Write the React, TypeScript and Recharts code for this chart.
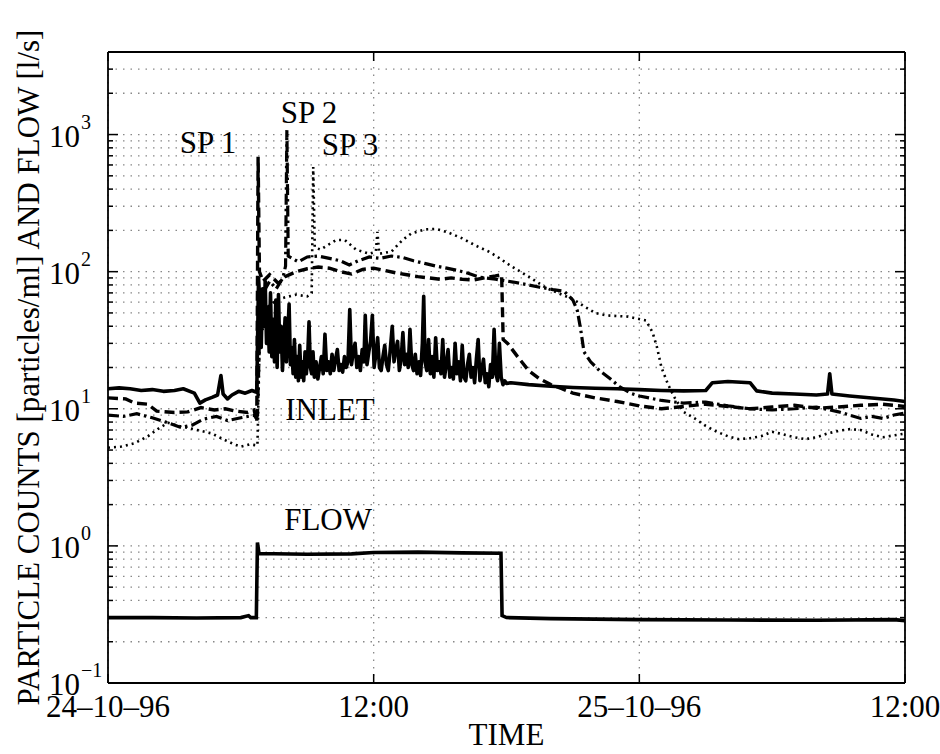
import React from 'react';

import { CartesianGrid, Label, Line, LineChart, ReferenceDot, XAxis, YAxis } from 'recharts';

const SERIF = '"Liberation Serif", "Times New Roman", serif';

// hours since 24-10-96 00:00
const xTicks = [0, 12, 24, 36];
const xTickLabels = ['24–10–96', '12:00', '25–10–96', '12:00'];

const yMajor = [0.1, 1, 10, 100, 1000];
const yExp = ['−1', '0', '1', '2', '3'];
const yMinor = [
  0.2, 0.3, 0.4, 0.5, 0.6, 0.7, 0.8, 0.9,
  2, 3, 4, 5, 6, 7, 8, 9,
  20, 30, 40, 50, 60, 70, 80, 90,
  200, 300, 400, 500, 600, 700, 800, 900,
  2000, 3000,
];
const yTicks = [...yMajor, ...yMinor].sort((a, b) => a - b);

// [hour, value]
const inlet: [number, number][] = [
  [0, 14], [0.5, 14.2], [1, 14], [1.5, 13.6], [2, 13.8], [2.5, 13.4], [3, 13.6], [3.4, 14],
  [3.9, 13], [4.15, 11], [4.4, 11.6], [4.7, 12.1], [4.95, 12.6], [5.1, 17.5], [5.2, 12.8],
  [5.4, 11.8], [5.6, 12.6], [5.9, 13.4], [6.2, 13], [6.5, 13.6], [6.72, 13.2],
  [6.8, 90], [6.86, 60], [6.92, 28], [6.98, 75], [7.04, 40], [7.1, 85], [7.16, 30], [7.22, 55],
  [7.28, 26], [7.34, 70], [7.4, 24], [7.46, 45], [7.52, 22], [7.58, 62], [7.64, 20], [7.7, 68],
  [7.76, 26], [7.82, 40], [7.88, 19], [7.94, 30], [8.0, 46], [8.06, 22], [8.12, 35], [8.18, 58],
  [8.24, 21], [8.3, 28], [8.36, 18], [8.42, 32], [8.48, 17], [8.54, 24], [8.6, 16], [8.66, 29],
  [8.72, 17], [8.78, 22], [8.84, 16], [8.9, 26], [8.96, 18], [9.02, 24], [9.08, 43], [9.14, 20],
  [9.2, 18], [9.26, 26], [9.32, 17], [9.4, 22], [9.48, 16.5], [9.56, 20], [9.64, 24], [9.72, 18],
  [9.8, 35], [9.88, 19], [9.96, 22], [10.04, 18], [10.12, 25], [10.2, 19], [10.28, 23],
  [10.36, 27], [10.44, 19], [10.52, 21], [10.6, 18.5], [10.68, 24], [10.76, 20], [10.84, 22],
  [10.92, 53], [11.0, 21], [11.08, 26], [11.16, 30], [11.24, 20], [11.32, 24], [11.4, 19],
  [11.48, 27], [11.56, 22], [11.62, 48], [11.7, 21], [11.78, 26], [11.86, 31], [11.94, 48],
  [12.02, 20], [12.1, 25], [12.18, 33], [12.26, 20], [12.34, 19], [12.42, 24], [12.5, 29],
  [12.58, 21], [12.66, 19], [12.74, 26], [12.84, 40], [12.92, 22], [13.0, 27], [13.08, 31],
  [13.16, 19], [13.24, 23], [13.32, 36], [13.4, 21], [13.48, 25], [13.56, 20], [13.64, 38],
  [13.72, 21], [13.8, 19], [13.88, 25], [13.96, 18], [14.04, 22], [14.12, 17.5], [14.2, 30],
  [14.26, 66], [14.32, 22], [14.4, 19], [14.48, 32], [14.56, 18], [14.64, 24], [14.72, 17],
  [14.8, 33], [14.88, 19], [14.96, 22], [15.04, 18], [15.12, 32], [15.2, 17], [15.28, 21],
  [15.36, 27], [15.44, 17], [15.52, 20], [15.6, 16.5], [15.68, 30], [15.76, 18], [15.84, 22],
  [15.92, 16], [16.0, 29], [16.08, 17], [16.16, 16], [16.24, 21], [16.32, 25], [16.4, 17],
  [16.48, 20], [16.56, 15.5], [16.64, 23], [16.72, 32], [16.8, 16], [16.88, 19], [16.96, 23],
  [17.04, 15.5], [17.12, 18], [17.2, 14.5], [17.28, 21], [17.36, 17], [17.44, 38], [17.52, 18],
  [17.6, 16], [17.68, 30], [17.76, 17], [17.84, 15], [17.92, 16], [18.0, 15.3], [18.2, 15.5],
  [19, 15], [20, 14.6], [21, 14.3], [22, 14.1], [23, 14], [24, 13.8], [25, 13.6], [26, 13.5],
  [27, 13.6], [27.3, 15.5], [28, 15.8], [29, 15.5], [29.3, 13.5], [30, 13], [31, 12.8],
  [32, 12.6], [32.5, 12.8], [32.6, 18], [32.7, 12.8], [33.5, 12.4], [34, 12.2], [35, 11.8],
  [35.5, 11.6], [36, 11.3],
];

const sp1: [number, number][] = [
  [0, 12], [0.8, 11.8], [1.2, 11], [1.8, 10.8], [2.2, 9.6], [3, 9.4], [3.6, 9.5], [4.2, 10.2],
  [4.8, 9.8], [5.3, 10], [5.8, 9.6], [6.3, 9.4], [6.6, 9.8], [6.72, 8], [6.78, 690], [6.84, 100],
  [7.0, 85], [7.3, 95], [7.7, 82], [8.0, 92], [8.5, 100], [9.0, 105], [9.5, 108], [10.0, 106],
  [10.5, 100], [11.0, 96], [11.5, 104], [12.0, 106], [12.5, 102], [13.0, 98], [13.5, 95],
  [14.0, 92], [14.5, 90], [15.0, 88], [15.5, 90], [16.0, 88], [16.5, 87], [17.0, 90],
  [17.5, 93], [17.78, 95], [17.85, 32], [18.05, 30], [18.5, 24], [19.0, 19], [19.5, 16.5],
  [20, 15], [20.5, 14], [21, 13], [22, 12], [23, 11.3], [24, 10.5], [25, 10], [26, 10.4],
  [27, 10.8], [28, 10.4], [29, 10], [30, 10.3], [31, 10.6], [32, 10.1], [33, 10.3],
  [34, 10.6], [35, 10.8], [36, 10.4],
];

const sp2: [number, number][] = [
  [0, 9], [0.7, 8.8], [1.3, 9.2], [2, 8.6], [2.6, 8], [3.3, 7.3], [3.8, 7.6], [4.3, 8.4],
  [4.9, 8.8], [5.4, 8.2], [6, 8.6], [6.5, 8.9], [6.75, 9], [6.85, 35], [7.0, 70], [7.3, 85],
  [7.6, 75], [7.9, 90], [8.02, 110], [8.08, 1080], [8.14, 130], [8.6, 118], [9.0, 128],
  [9.5, 130], [10.0, 125], [10.5, 120], [10.9, 112], [11.3, 120], [11.8, 128], [12.3, 125],
  [12.8, 130], [13.3, 127], [13.8, 120], [14.3, 115], [14.8, 110], [15.3, 106], [15.8, 102],
  [16.3, 97], [16.8, 91], [17.5, 88], [18.3, 84], [19.0, 80], [19.5, 77], [20.1, 74],
  [20.6, 72], [21.0, 62], [21.2, 52], [21.35, 38], [21.5, 26], [21.8, 22], [22.2, 19],
  [22.7, 16.5], [23.1, 14.5], [23.6, 13], [24, 12.4], [25, 11.5], [26, 11], [27, 11.2],
  [28, 10.5], [29, 10], [30, 9.8], [31, 10], [32, 10.3], [33, 9.5], [33.5, 9], [34, 8.5],
  [34.5, 8.8], [35, 8.5], [35.5, 9], [36, 9.3],
];

const sp3: [number, number][] = [
  [0, 5.2], [0.6, 5.3], [1.2, 5.6], [1.8, 6.3], [2.3, 7.2], [2.7, 7.9], [3.2, 7.5], [3.7, 7.2],
  [4.2, 6.9], [4.7, 6.6], [5.2, 6], [5.7, 5.5], [6.0, 5.3], [6.4, 5.5], [6.75, 5.4],
  [6.85, 30], [7.2, 55], [7.6, 62], [8.0, 65], [8.5, 68], [9.0, 66], [9.2, 70], [9.27, 580],
  [9.34, 150], [9.6, 145], [10.3, 170], [10.7, 170], [11.2, 145], [11.8, 135], [12.1, 140],
  [12.17, 195], [12.25, 135], [12.8, 140], [13.3, 170], [13.7, 190], [14.3, 203], [14.8, 205],
  [15.3, 195], [16.0, 175], [16.6, 155], [17.2, 140], [17.6, 128], [18.2, 110], [19.0, 92],
  [19.8, 76], [20.5, 68], [21.0, 63], [21.5, 56], [22.0, 50], [22.5, 48], [23.5, 47],
  [24.3, 44], [24.6, 36], [24.8, 28], [25.0, 20], [25.3, 15], [25.6, 12], [26.0, 9.5],
  [26.5, 8.5], [27, 7.5], [27.5, 6.8], [28, 6.3], [28.5, 6], [29, 6.1], [29.5, 6.3], [30, 6.8],
  [30.5, 6.5], [31, 6.2], [31.5, 6], [32, 6.2], [32.5, 6.6], [33, 6.9], [33.5, 7.1], [34, 7],
  [34.5, 6.5], [35, 6.2], [35.5, 6.4], [36, 6.6],
];

const flow: [number, number][] = [
  [0, 0.3], [2, 0.3], [4, 0.298], [6, 0.3], [6.35, 0.31], [6.45, 0.3], [6.7, 0.3], [6.75, 1.06],
  [6.82, 0.88], [9, 0.87], [11, 0.875], [12, 0.895], [14, 0.9], [16, 0.89], [17.75, 0.885],
  [17.8, 0.31], [18, 0.3], [20, 0.295], [24, 0.29], [28, 0.288], [32, 0.287], [35.5, 0.29],
  [36, 0.285],
];

const toRows = (pts: [number, number][]) => pts.map(([t, v]) => ({ t, v }));

const LeftTick = (props: any) => {
  const { x, y, payload } = props;
  const i = yMajor.indexOf(payload.value);
  const major = i >= 0;
  return (
    <g>
      <line x1={x} x2={x + (major ? 10 : 5)} y1={y} y2={y} stroke="#000" strokeWidth={1.5} />
      {major && (
        <>
          <text x={x - 28} y={y + 12} textAnchor="end" fontSize={31} fontFamily={SERIF} fill="#000">
            10
          </text>
          <text x={x - 27} y={y - 6} fontSize={20} fontFamily={SERIF} fill="#000">
            {yExp[i]}
          </text>
        </>
      )}
    </g>
  );
};

const RightTick = (props: any) => {
  const { x, y, payload } = props;
  const major = yMajor.includes(payload.value);
  return <line x1={x} x2={x - (major ? 10 : 5)} y1={y} y2={y} stroke="#000" strokeWidth={1.5} />;
};

const BottomTick = (props: any) => {
  const { x, y, payload } = props;
  const i = xTicks.indexOf(payload.value);
  return (
    <g>
      <line x1={x} x2={x} y1={y} y2={y - 9} stroke="#000" strokeWidth={1.5} />
      <text x={x} y={y + 34} textAnchor="middle" fontSize={31} fontFamily={SERIF} fill="#000">
        {xTickLabels[i]}
      </text>
    </g>
  );
};

const TopTick = (props: any) => {
  const { x, y } = props;
  return <line x1={x} x2={x} y1={y} y2={y + 9} stroke="#000" strokeWidth={1.5} />;
};

const TimeLabel = (props: any) => {
  const { x, y, width } = props.viewBox;
  return (
    <text x={x + width / 2} y={y + 62} textAnchor="middle" fontSize={31} fontFamily={SERIF} fill="#000">
      TIME
    </text>
  );
};

const CountsLabel = (props: any) => {
  const { x, y, height } = props.viewBox;
  return (
    <text
      transform={`translate(${x - 9},${y + height / 2}) rotate(-90)`}
      textAnchor="middle"
      fontSize={31}
      fontFamily={SERIF}
      fill="#000"
    >
      PARTICLE COUNTS [particles/ml] AND FLOW [l/s]
    </text>
  );
};

const notes = [
  { text: 'SP 1', t: 4.52, v: 880 },
  { text: 'SP 2', t: 9.08, v: 1460 },
  { text: 'SP 3', t: 10.93, v: 850 },
  { text: 'INLET', t: 10.03, v: 10 },
  { text: 'FLOW', t: 9.94, v: 1.57 },
];

const axisLine = { stroke: '#000', strokeWidth: 1.8 };

const App: React.FC = (): JSX.Element => (
  <div style={{ position: 'absolute', left: 0, top: 0, background: '#fff' }}>
    <LineChart width={940} height={754} margin={{ top: 42, right: 25, bottom: 21, left: 48 }}>
      <CartesianGrid stroke="#888" strokeWidth={1.3} strokeDasharray="1.5 6" />
      <XAxis
        dataKey="t"
        type="number"
        domain={[0, 36]}
        ticks={xTicks}
        allowDataOverflow
        height={50}
        tickSize={0}
        tickMargin={0}
        tickLine={false}
        axisLine={axisLine}
        tick={BottomTick}
        interval={0}
      >
        <Label content={TimeLabel} />
      </XAxis>
      <XAxis
        xAxisId="top"
        orientation="top"
        dataKey="t"
        type="number"
        domain={[0, 36]}
        ticks={xTicks}
        allowDataOverflow
        height={10}
        tickSize={0}
        tickMargin={0}
        tickLine={false}
        axisLine={axisLine}
        tick={TopTick}
        interval={0}
      />
      <YAxis
        type="number"
        scale="log"
        domain={[0.1, 4000]}
        ticks={yTicks}
        allowDataOverflow
        width={60}
        tickSize={0}
        tickMargin={0}
        tickLine={false}
        axisLine={axisLine}
        tick={LeftTick}
        interval={0}
      >
        <Label content={CountsLabel} />
      </YAxis>
      <YAxis
        yAxisId="r"
        orientation="right"
        type="number"
        scale="log"
        domain={[0.1, 4000]}
        ticks={yTicks}
        allowDataOverflow
        width={10}
        tickSize={0}
        tickMargin={0}
        tickLine={false}
        axisLine={axisLine}
        tick={RightTick}
        interval={0}
      />
      <Line
        data={toRows(sp3)}
        dataKey="v"
        stroke="#000"
        strokeWidth={2.6}
        strokeDasharray="2 4"
        dot={false}
        isAnimationActive={false}
      />
      <Line
        data={toRows(sp2)}
        dataKey="v"
        stroke="#000"
        strokeWidth={3.2}
        strokeDasharray="11 4 2.5 4"
        dot={false}
        isAnimationActive={false}
      />
      <Line
        data={toRows(sp1)}
        dataKey="v"
        stroke="#000"
        strokeWidth={3.4}
        strokeDasharray="10 5"
        dot={false}
        isAnimationActive={false}
      />
      <Line
        data={toRows(inlet)}
        dataKey="v"
        stroke="#000"
        strokeWidth={3.6}
        strokeLinejoin="round"
        dot={false}
        isAnimationActive={false}
      />
      <Line
        data={toRows(flow)}
        xAxisId="top"
        yAxisId="r"
        dataKey="v"
        stroke="#000"
        strokeWidth={3.6}
        dot={false}
        isAnimationActive={false}
      />
      {notes.map(n => (
        <ReferenceDot
          key={n.text}
          x={n.t}
          y={n.v}
          r={0}
          fill="none"
          stroke="none"
          label={{ value: n.text, position: 'center', fontSize: 31, fontFamily: SERIF, fill: '#000' }}
        />
      ))}
    </LineChart>
  </div>
);

export default App;
